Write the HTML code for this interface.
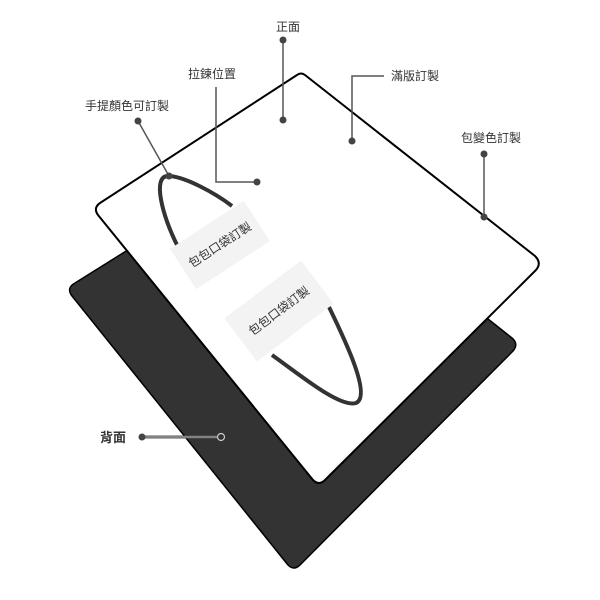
<!DOCTYPE html>
<html><head><meta charset="utf-8"><style>
html,body{margin:0;padding:0;background:#fff;}
svg{display:block}
text{font-family:"Liberation Sans","Noto Sans CJK TC",sans-serif;font-size:12px;fill:#333;}
</style></head><body>
<svg width="600" height="600" viewBox="0 0 600 600" xmlns="http://www.w3.org/2000/svg">
<!-- back panel -->
<path d="M275,158 Q280,153 285,158 L512,338 Q519,344 513,351 L300,565 Q294,571 288,565 L72,296 Q66,288 75,283 Z" fill="#333" stroke="#000" stroke-width="1.5" stroke-linejoin="round"/>
<!-- front panel -->
<path d="M297,75 Q301,72 305,75 L535,256 Q542,263 536,270 L325,480 Q319,486 313,480 L98,215 Q93,208 100,203 Z" fill="#fff" stroke="#000" stroke-width="2" stroke-linejoin="round"/>
<!-- handles -->
<path d="M178,247 C162,215 152,176 168,176 C184,176 215,193 232,206" fill="none" stroke="#333" stroke-width="4"/>
<path d="M272,355 C300,375 340,408 356,403 C372,396 345,340 329,307" fill="none" stroke="#333" stroke-width="4"/>
<!-- tags -->
<g transform="translate(220,245) rotate(-33)">
<rect x="-44" y="-24" width="88" height="48" fill="#f3f3f3"/>
<text x="0" y="4" text-anchor="middle">包包口袋訂製</text>
</g>
<g transform="translate(279,311) rotate(-37)">
<rect x="-48" y="-27" width="96" height="54" fill="#f3f3f3"/>
<text x="0" y="4" text-anchor="middle">包包口袋訂製</text>
</g>
<!-- callouts -->
<g stroke="#555" stroke-width="1.5" fill="none">
<line x1="283" y1="40" x2="283" y2="120"/>
<polyline points="216,87 216,182 257,182"/>
<polyline points="384,76 352,76 352,141"/>
<line x1="484" y1="154" x2="484" y2="217"/>
<line x1="138" y1="121" x2="169" y2="176"/>
<line x1="141" y1="437" x2="218" y2="437" stroke-width="3"/>
</g>
<line x1="141" y1="437" x2="218" y2="437" stroke="#ccc" stroke-width="0.8"/>
<g fill="#444">
<circle cx="283" cy="40" r="3.5"/><circle cx="283" cy="120" r="3.5"/>
<circle cx="257" cy="182" r="3.5"/>
<circle cx="352" cy="141" r="3.5"/>
<circle cx="484" cy="154" r="3.5"/><circle cx="484" cy="217" r="3.5"/>
<circle cx="138" cy="121" r="3.5"/><circle cx="169" cy="176" r="3.5"/>
<circle cx="142" cy="437" r="3.5"/>
</g>
<circle cx="221" cy="437" r="3.5" fill="#333" stroke="#ccc" stroke-width="1.2"/>
<!-- labels -->
<text x="288" y="31" text-anchor="middle">正面</text>
<text x="212" y="78" text-anchor="middle">拉鍊位置</text>
<text x="391" y="80">滿版訂製</text>
<text x="127" y="110" text-anchor="middle">手提顏色可訂製</text>
<text x="491" y="142" text-anchor="middle">包變色訂製</text>
<text x="100" y="442" style="font-size:13px;font-weight:bold">背面</text>
</svg>
</body></html>
